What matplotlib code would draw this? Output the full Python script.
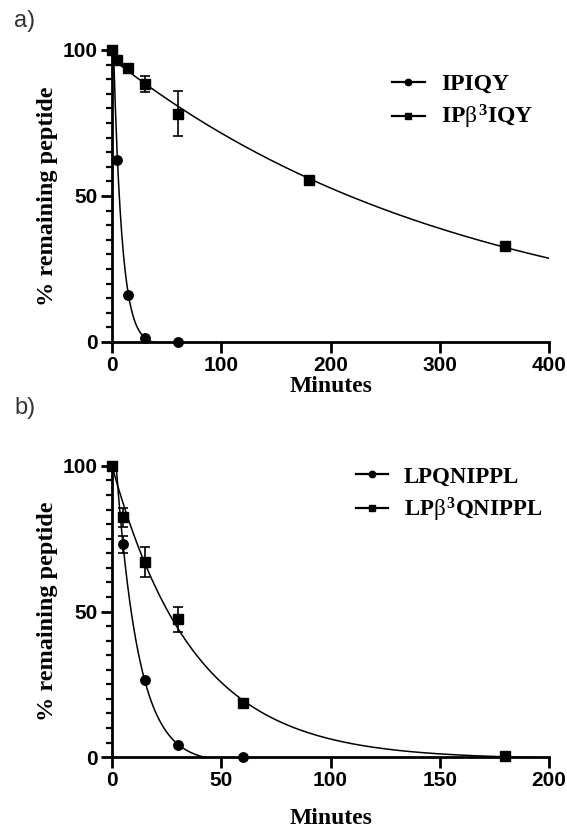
import numpy as np
import matplotlib
matplotlib.use("Agg")
from matplotlib import pyplot as plt
from matplotlib.ticker import MultipleLocator

plt.rcParams['mathtext.fontset'] = 'custom'
plt.rcParams['mathtext.it'] = 'Liberation Serif'
plt.rcParams['mathtext.rm'] = 'Liberation Serif:bold'
plt.rcParams['mathtext.bf'] = 'Liberation Serif:bold'

# panel a data
a_time_fast = [0, 5, 15, 30, 60]
a_fast = [100, 62.4, 16.0, 1.5, 0.0]
a_time_slow = [0, 5, 15, 30, 60, 180, 360]
a_slow = [100, 96.4, 93.7, 88.2, 78.1, 55.5, 33.0]
a_slow_err = [0, 0, 0, 2.7, 7.7, 0, 0]
a_labels = ['IPIQY', r'IP$\beta^{\mathbf{3}}$IQY']

# panel b data
b_time_fast = [0, 5, 15, 30, 60]
b_fast = [100, 73.1, 26.4, 4.0, 0.0]
b_fast_err = [0, 2.9, 0, 0, 0]
b_time_slow = [0, 5, 15, 30, 60, 180]
b_slow = [100, 82.4, 67.0, 47.4, 18.6, 0.5]
b_slow_err = [0, 3.3, 5.2, 4.3, 0, 0]
b_labels = ['LPQNIPPL', r'LP$\beta^{\mathbf{3}}$QNIPPL']

# one-phase decay fits (Y0, plateau, k)
a_fast_fit = (120.4, -1.0, 0.13)
a_slow_fit = (97.0, 0.0, 0.00305)
b_fast_fit = (121.0, -2.0, 0.098)
b_slow_fit = (100.0, -0.7, 0.0268)


def decay(x, fit):
    y0, p, k = fit
    return (y0 - p) * np.exp(-k * x) + p


def draw(ax, xmax, xstep, series, labels, legpos, legsize, xpad):
    xx = np.linspace(0, xmax, 800)
    handles = []
    for (t, v, e, fit, mk), lab in zip(series, labels):
        ax.plot(xx, decay(xx, fit), color='black', lw=1.1, zorder=2)
        t = np.array(t); v = np.array(v); e = np.array(e)
        m = e > 0
        if m.any():
            ax.errorbar(t[m], v[m], yerr=e[m], fmt='none', ecolor='black',
                        elinewidth=1.2, capsize=3.6, capthick=1.2, zorder=3,
                        clip_on=False)
        ax.plot(t, v, mk, color='black', ms=6.8, zorder=4, clip_on=False)
        h, = ax.plot([], [], '-' + mk, color='black', lw=1.6, ms=4.6, label=lab)
        handles.append(h)
    ax.set_xlim(0, xmax)
    ax.set_ylim(0, 100)
    for s in ['top', 'right']:
        ax.spines[s].set_visible(False)
    for s in ['left', 'bottom']:
        ax.spines[s].set_linewidth(2.0)
    ax.xaxis.set_major_locator(MultipleLocator(xstep))
    ax.yaxis.set_major_locator(MultipleLocator(50))
    ax.yaxis.set_minor_locator(MultipleLocator(5))
    ax.tick_params(axis='both', which='major', length=8, width=2.0, pad=2)
    ax.tick_params(axis='y', which='minor', length=4.5, width=1.6)
    for lb in ax.get_xticklabels() + ax.get_yticklabels():
        lb.set_fontfamily('Liberation Sans')
        lb.set_fontweight('bold')
        lb.set_fontsize(15)
    ax.set_xlabel('Minutes', fontfamily='Liberation Serif', fontweight='bold',
                  fontsize=17, labelpad=xpad)
    ax.set_ylabel('% remaining peptide', fontfamily='Liberation Serif',
                  fontweight='bold', fontsize=17.5, labelpad=4)
    ax.legend(handles=handles, loc='center left', bbox_to_anchor=legpos,
              frameon=False, handlelength=1.4, handletextpad=0.7,
              labelspacing=0.35, borderaxespad=0, borderpad=0,
              prop={'family': 'Liberation Serif', 'weight': 'bold', 'size': legsize})


fig = plt.figure(figsize=(5.67, 8.32), dpi=100)
ax1 = fig.add_axes([0.1975, 0.589, 0.771, 0.351])
ax2 = fig.add_axes([0.1975, 0.090, 0.771, 0.350])

draw(ax1, 400, 100,
     [(a_time_fast, a_fast, [0] * len(a_fast), a_fast_fit, 'o'),
      (a_time_slow, a_slow, a_slow_err, a_slow_fit, 's')],
     a_labels, (0.64, 0.82), 17, 1)
draw(ax2, 200, 50,
     [(b_time_fast, b_fast, b_fast_err, b_fast_fit, 'o'),
      (b_time_slow, b_slow, b_slow_err, b_slow_fit, 's')],
     b_labels, (0.558, 0.9), 16.5, 13)

fig.text(0.025, 0.975, 'a)', fontsize=17, color='#333333', va='center',
         fontfamily='Liberation Sans')
fig.text(0.025, 0.51, 'b)', fontsize=17, color='#333333', va='center',
         fontfamily='Liberation Sans')

fig.savefig('out.png', dpi=100)
